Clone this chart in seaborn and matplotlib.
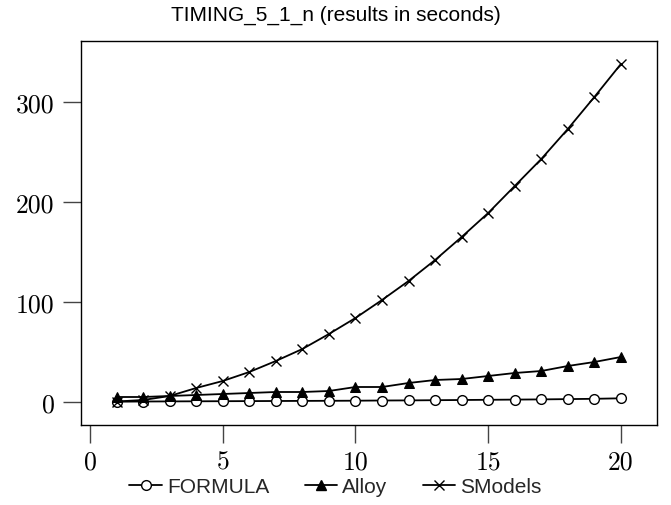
import numpy as np
import pandas as pd
import matplotlib
matplotlib.use("Agg")
import matplotlib.pyplot as plt
import seaborn as sns
from matplotlib.lines import Line2D

sns.set_theme(style="white")

n = list(range(1, 21))
formula = [0.3, 0.5, 0.6, 0.7, 0.8, 0.9, 1.0, 1.1, 1.2, 1.3, 1.5, 1.6, 1.8, 2.0, 2.2, 2.4, 2.6, 2.9, 3.2, 3.7]
alloy = [5, 5, 6, 7, 8, 9, 10, 10, 11, 15, 15, 19, 22, 23, 26, 29, 31, 36, 40, 45]
smodels = [0.5, 2, 6, 14, 21, 30, 41, 53, 68, 84, 102, 121, 142, 165, 189, 216, 243, 273, 305, 338]
series = ["FORMULA", "Alloy", "SModels"]
title = "TIMING_5_1_n (results in seconds)"
xticks = [0, 5, 10, 15, 20]
yticks = [0, 100, 200, 300]

df = pd.DataFrame({
    "n": n * 3,
    "time": formula + alloy + smodels,
    "tool": [series[0]] * 20 + [series[1]] * 20 + [series[2]] * 20,
})

fig = plt.figure(figsize=(6.71, 5.06), dpi=100)
ax = fig.add_axes([81 / 671, 1 - 426 / 506, (657 - 81) / 671, (426 - 42) / 506])

styles = {
    "FORMULA": dict(marker="o", markerfacecolor="white", markeredgecolor="black", markeredgewidth=1.0),
    "Alloy": dict(marker="^", markerfacecolor="black", markeredgecolor="black"),
    "SModels": dict(marker="x", markeredgecolor="black", markeredgewidth=1.0),
}
for name in series:
    sub = df[df["tool"] == name]
    sns.lineplot(data=sub, x="n", y="time", color="black", linewidth=1.3,
                 markersize=7, legend=False, ax=ax, **styles[name])

ax.set_xlim(-0.34, 21.36)
ax.set_ylim(-23, 361)
ax.set_xticks(xticks)
ax.set_yticks(yticks)
ax.set_xlabel("")
ax.set_ylabel("")
for s in ax.spines.values():
    s.set_visible(True)
    s.set_color("black")
    s.set_linewidth(1.0)
ax.tick_params(axis="both", direction="out", length=13, width=1.0, color="#444444",
               labelsize=18.5, left=True, bottom=True)
ax.tick_params(axis="y", pad=6)
ax.tick_params(axis="x", pad=5)
for lab in ax.get_xticklabels() + ax.get_yticklabels():
    lab.set_family("cmr10")
    lab.set_color("black")
ax.grid(False)

fig.text(0.5, 1 - 15 / 506, title, ha="center", va="center",
         fontsize=15, family="Liberation Sans", color="black")

handles = [
    Line2D([], [], color="black", lw=1.3, marker="o", markerfacecolor="white", markersize=7),
    Line2D([], [], color="black", lw=1.3, marker="^", markerfacecolor="black", markersize=7),
    Line2D([], [], color="black", lw=1.3, marker="x", markersize=7),
]
leg = fig.legend(handles, series, loc="center", bbox_to_anchor=(0.5, 1 - 488 / 506),
                 ncol=3, frameon=False, prop={"family": "Liberation Sans", "size": 15},
                 handlelength=1.55, handletextpad=0.25, columnspacing=1.7, borderpad=0)

fig.savefig("out.png", dpi=100)
